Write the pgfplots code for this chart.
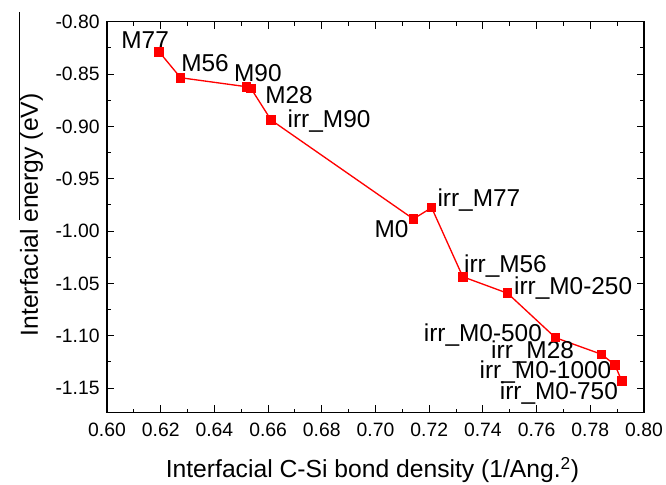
\documentclass[border=0pt]{standalone}
\usepackage{pgfplots}
\pgfplotsset{compat=1.18}
\usepackage{pgfplotstable}
\usepackage{fontspec}
\setmainfont{Liberation Sans}

\pgfplotstableread{
x y
0.6194 -0.8287
0.6274 -0.8535
0.6520 -0.8621
0.6536 -0.8636
0.6611 -0.8939
0.7141 -0.9884
0.7209 -0.9776
0.7325 -1.0436
0.7492 -1.0594
0.7670 -1.1018
0.7842 -1.1177
0.7892 -1.1279
0.7917 -1.1432
}\datatable

\begin{document}
\begin{tikzpicture}
\useasboundingbox (-80.25pt,-53.5pt) rectangle (419.25pt,309.55pt);
\begin{axis}[name=ax, at={(0pt,0pt)}, anchor=south west,
  scale only axis, width=402.75pt, height=293.25pt,
  xmin=0.6, xmax=0.8, ymin=-1.1735, ymax=-0.80,
  axis line style={line width=0.8pt},
  tick align=inside,
  major tick length=5.5pt, minor tick length=3pt,
  every tick/.style={black, line width=0.8pt},
  /pgf/number format/assume math mode=true,
  /pgf/number format/fixed, /pgf/number format/fixed zerofill, /pgf/number format/precision=2,
  ticklabel style={font=\fontsize{14.5}{16}\selectfont},
  xticklabel style={yshift=-4pt},
  yticklabel style={xshift=-2pt},
  xtick={0.6,0.62,0.64,0.66,0.68,0.7,0.72,0.74,0.76,0.78,0.8},
  minor x tick num=1, xtick pos=both,
  ytick={-1.15,-1.10,-1.05,-1.00,-0.95,-0.90,-0.85,-0.80},
  minor y tick num=1, ytick pos=both,
  xticklabel pos=lower, yticklabel pos=left,
  xlabel={Interfacial C-Si bond density (1/Ang.\textsuperscript{2})},
  xlabel style={font=\fontsize{18.5}{20}\selectfont, at={(axis description cs:0.4944,-0.1654)}, anchor=base},
  ylabel={Interfacial energy (eV)},
  ylabel style={font=\fontsize{18.5}{20}\selectfont, at={(axis description cs:-0.1285,0.506)}, anchor=base},
  clip=false]
\addplot[red, line width=1pt, mark=square*, mark size=3.1pt, mark options={solid, fill=red, draw=red}] table[x=x,y=y] {\datatable};
\begin{scope}[every node/.style={font=\fontsize{18.3}{20}\selectfont, anchor=center, inner sep=0pt}]
\node at (axis cs:0.6142,-0.8175) {M77};
\node at (axis cs:0.6365,-0.8396) {M56};
\node at (axis cs:0.6562,-0.8490) {M90};
\node at (axis cs:0.6678,-0.8700) {M28};
\node at (axis cs:0.6827,-0.8948) {irr\_M90};
\node at (axis cs:0.7060,-0.9977) {M0};
\node at (axis cs:0.7385,-0.9699) {irr\_M77};
\node at (axis cs:0.7484,-1.0333) {irr\_M56};
\node at (axis cs:0.7736,-1.0543) {irr\_M0-250};
\node at (axis cs:0.7400,-1.0992) {irr\_M0-500};
\node at (axis cs:0.7585,-1.1152) {irr\_M28};
\node at (axis cs:0.7633,-1.1351) {irr\_M0-1000};
\node at (axis cs:0.7683,-1.1546) {irr\_M0-750};
\end{scope}
\draw[line width=0.6pt] (axis description cs:-0.1639,1.025) -- (axis description cs:-0.1639,0.493);
\end{axis}
\end{tikzpicture}
\end{document}
